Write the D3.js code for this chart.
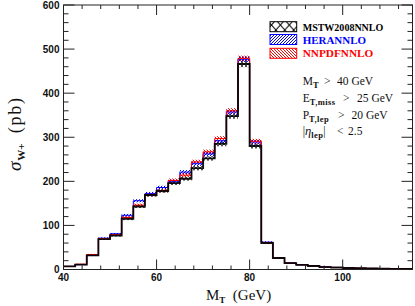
<!DOCTYPE html>
<html><head><meta charset="utf-8">
<script src="https://cdn.jsdelivr.net/npm/d3@7"></script>
<style>
html,body{margin:0;padding:0;background:#fff;}
svg{display:block;}
</style></head>
<body>
<script>
// ---- data ----
const binEdges = [40,42.5,45,47.5,50,52.5,55,57.5,60,62.5,65,67.5,70,72.5,75,77.5,80,82.5,85,87.5,90,92.5,95,97.5,100,102.5,105,107.5,110,112.5,115];
const mstw  = [7,11,32,69,77,115,143,169,178,196,206,230,252,285,348,466,280,60,26,14.5,10.5,8,5.5,4.5,3.5,3,2.5,2,1.5,1.5];
const hera  = [7,11,32,71,81,123,156,172,186,199,221,240,262,292,357,477,289,62,26,15,10.5,8.5,6.5,4.5,3.5,3,2.5,2,1.5,1.5];
const nnpdf = [7,12,34,70,79,118,146,170,179,202,214,244,267,297,360,479,291,61,26,14.5,11,8,5.5,4.5,3.5,3,2.5,2,2,2];
const mstwErr  = [1,1,1.5,2,2,3,3.5,4,4,4.5,4.5,5,5,5.5,6,7,5.5,2,1,0.6,0.5,0.5,0.4,0.3,0.3,0.3,0.3,0.3,0.3,0.3];
const heraErr  = [1,1,1.5,2,2,3,3.5,4,4,4.5,4.5,5,5,5.5,6,6,5.5,2,1,0.6,0.5,0.5,0.4,0.3,0.3,0.3,0.3,0.3,0.3,0.3];
const nnpdfErr = [1,1,1.5,2,2,3,3.5,4,4,4.5,4.5,5,5,5.5,6,6,5.5,2,1,0.6,0.5,0.5,0.4,0.3,0.3,0.3,0.3,0.3,0.3,0.3];
const xTicks = [40,60,80,100];
const yTicks = [0,100,200,300,400,500,600];
const legendNames = ["MSTW2008NNLO","HERANNLO","NNPDFNNLO"];
const legendColors = ["#000000","#0000ff","#ff0000"];

// ---- layout ----
const W = 415, H = 306;
const L = 63.5, R = 412.5, T = 5, B = 269.5;
const x = d3.scaleLinear().domain([40,115]).range([L,R]);
const y = d3.scaleLinear().domain([0,600]).range([B,T]);

const svg = d3.select("body").append("svg").attr("width",W).attr("height",H);
const defs = svg.append("defs");

function hatch(id, w, h, color, dirs, sw){
  const p = defs.append("pattern").attr("id",id).attr("patternUnits","userSpaceOnUse")
    .attr("width",w).attr("height",h);
  if (dirs.includes("/")) {
    p.append("path").attr("d",`M0,${h} L${w},0 M${-w},${h} L0,0 M${w},${h} L${2*w},0`).attr("stroke",color).attr("stroke-width",sw);
  }
  if (dirs.includes("\\")) {
    p.append("path").attr("d",`M0,0 L${w},${h} M${-w},0 L0,${h} M${w},0 L${2*w},${h}`).attr("stroke",color).attr("stroke-width",sw);
  }
}
hatch("pM",4,4,"#000","/\\",0.7);
hatch("pH",3,3,"#0000ff","/",1);
hatch("pN",3,3,"#ff0000","\\",1);
hatch("lM",8.9,10,"#000","/\\",1);
hatch("lH",3,3,"#0000ff","/",1);
hatch("lN",3,3,"#ff0000","\\",1);

const bins = d3.range(mstw.length);
const series = [
  {v:mstw, e:mstwErr, pat:"pM", col:"#000"},
  {v:hera, e:heraErr, pat:"pH", col:"#0000ff"},
  {v:nnpdf, e:nnpdfErr, pat:"pN", col:"#ff0000"}
];

// bands
series.forEach(s=>{
  svg.append("g").selectAll("rect").data(bins).join("rect")
    .attr("x", i=>x(binEdges[i]))
    .attr("width", i=>x(binEdges[i+1])-x(binEdges[i]))
    .attr("y", i=>y(s.v[i]+s.e[i]))
    .attr("height", i=>Math.max(0.5, y(s.v[i]-s.e[i])-y(s.v[i]+s.e[i])))
    .attr("fill", `url(#${s.pat})`);
});

// step lines
const stepLine = d3.line().x(d=>x(d[0])).y(d=>y(d[1])).curve(d3.curveStepAfter);
function pts(v){ const p = bins.map(i=>[binEdges[i], v[i]]); p.push([binEdges[binEdges.length-1], v[v.length-1]]); return p; }
svg.append("path").attr("d",stepLine(pts(hera))).attr("fill","none").attr("stroke","#0000ff").attr("stroke-width",1);
svg.append("path").attr("d",stepLine(pts(nnpdf))).attr("fill","none").attr("stroke","#ff0000").attr("stroke-width",1);
svg.append("path").attr("d",stepLine(pts(mstw))).attr("fill","none").attr("stroke","#000").attr("stroke-width",1.9).attr("stroke-opacity",0.9);

// axes
const axG = svg.append("g").attr("stroke","#222").attr("fill","none");
axG.append("rect").attr("x",L).attr("y",T).attr("width",R-L).attr("height",B-T).attr("stroke-width",1);

const xMinor = d3.range(40,115.01,4);
const yMinor = d3.range(0,600.01,20);
xMinor.forEach(v=>{
  const major = xTicks.includes(v);
  const len = major ? 10 : 4;
  axG.append("line").attr("x1",x(v)).attr("x2",x(v)).attr("y1",B).attr("y2",B-len);
  axG.append("line").attr("x1",x(v)).attr("x2",x(v)).attr("y1",T).attr("y2",T+len);
});
yMinor.forEach(v=>{
  const major = yTicks.includes(v);
  const len = major ? 11 : 5;
  axG.append("line").attr("x1",L).attr("x2",L+len).attr("y1",y(v)).attr("y2",y(v));
  axG.append("line").attr("x1",R).attr("x2",R-len).attr("y1",y(v)).attr("y2",y(v));
});

// tick labels
const tickFont = "'Liberation Sans', Arial, sans-serif";
svg.append("g").selectAll("text").data(yTicks).join("text")
  .attr("x",L-4).attr("y",d=>y(d)+3.5).attr("text-anchor","end")
  .attr("font-family",tickFont).attr("font-weight","bold").attr("font-size",10).attr("fill","#111")
  .text(d=>d);
svg.append("g").selectAll("text").data(xTicks).join("text")
  .attr("x",d=>x(d)).attr("y",281).attr("text-anchor","middle")
  .attr("font-family",tickFont).attr("font-weight","bold").attr("font-size",10).attr("fill","#111")
  .text(d=>d);

// axis titles
const serif = "'Liberation Serif', 'DejaVu Serif', serif";
const xt = svg.append("text").attr("x",206).attr("y",300)
  .attr("font-family",serif).attr("font-size",15).attr("fill","#111").attr("xml:space","preserve");
xt.append("tspan").text("M");
xt.append("tspan").attr("font-size",9).attr("font-weight","bold").attr("dy",3).text("T");
xt.append("tspan").attr("dy",-3).text("  (GeV)");

const yt = svg.append("text").attr("transform","translate(21,171) rotate(-90)")
  .attr("font-family",serif).attr("font-size",18).attr("fill","#111");
yt.append("tspan").attr("font-style","italic").attr("font-size",19).text("σ");
yt.append("tspan").attr("font-size",11).attr("font-weight","bold").attr("dy",3.5).attr("dx",1).text("W+");
yt.append("tspan").attr("dy",-3.5).attr("dx",10).attr("letter-spacing",1.8).text("(pb)");

// legend
const legX = 270, legW = 26.7, legH = 10;
const legY = [21.7, 34.5, 48.3];
const legLen = [80.6, 63.3, 70.7];
const legPats = ["lM","lH","lN"];
legendNames.forEach((n,i)=>{
  svg.append("rect").attr("x",legX).attr("y",legY[i]).attr("width",legW).attr("height",legH)
    .attr("fill",`url(#${legPats[i]})`).attr("stroke",legendColors[i]).attr("stroke-width",1);
  svg.append("text").attr("x",302.7).attr("y",legY[i]+9).attr("font-family",serif)
    .attr("font-weight","bold").attr("font-size",11).attr("fill",legendColors[i])
    .attr("textLength",legLen[i]).attr("lengthAdjust","spacingAndGlyphs").text(n);
});

// cut text: label, operator, value
const cutY = [85, 102, 119, 135];
const cutOps = [">", ">", ">", "<"];
const cutVals = ["40 GeV", "25 GeV", "20 GeV", "2.5"];
const opX = [324, 343, 338, 337];
const valX = [337, 357, 351.5, 348];
function cutText(i){
  const g = svg.append("g").attr("font-family",serif).attr("font-size",11.5).attr("fill","#111");
  const t = g.append("text").attr("x",302.7).attr("y",cutY[i]);
  g.append("text").attr("x",opX[i]).attr("y",cutY[i]).text(cutOps[i]);
  g.append("text").attr("x",valX[i]).attr("y",cutY[i]).attr("xml:space","preserve").text(cutVals[i]);
  return t;
}
const subSize = 8.5;
let t1 = cutText(0);
t1.append("tspan").text("M");
t1.append("tspan").attr("font-size",subSize).attr("font-weight","bold").attr("dy",2.5).text("T");
let t2 = cutText(1);
t2.append("tspan").text("E");
t2.append("tspan").attr("font-size",subSize).attr("font-weight","bold").attr("letter-spacing",0.4).attr("dy",2.5).text("T,miss");
let t3 = cutText(2);
t3.append("tspan").text("P");
t3.append("tspan").attr("font-size",subSize).attr("font-weight","bold").attr("letter-spacing",0.4).attr("dy",2.5).text("T,lep");
let t4 = cutText(3);
t4.append("tspan").text("|");
t4.append("tspan").attr("font-style","italic").attr("font-size",12.5).text("η");
t4.append("tspan").attr("font-size",subSize).attr("font-weight","bold").attr("letter-spacing",0.4).attr("dy",2.5).text("lep");
t4.append("tspan").attr("dy",-2.5).text("|");
</script>
</body></html>
